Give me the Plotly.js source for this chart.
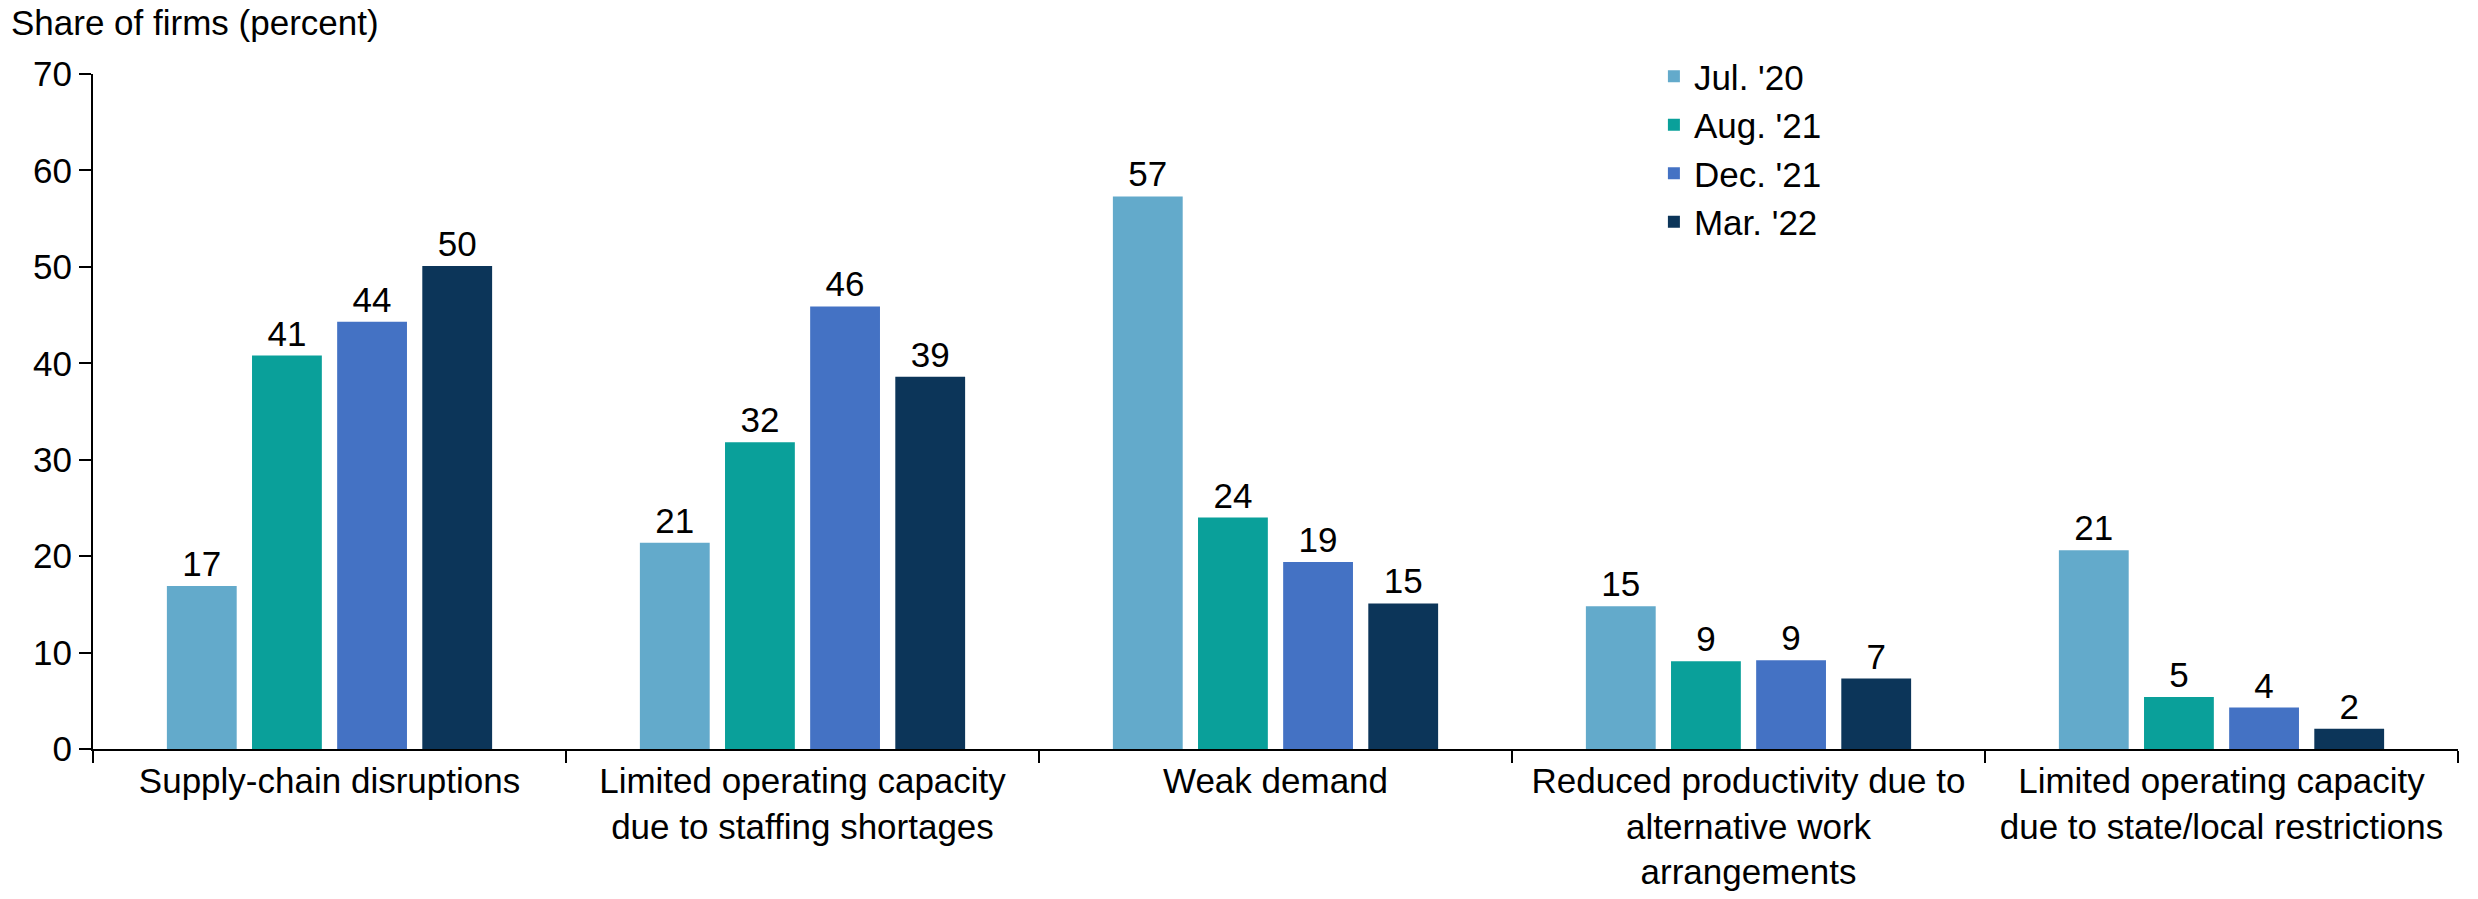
<!DOCTYPE html>
<html>
<head>
<meta charset="utf-8">
<script src="https://cdn.plot.ly/plotly-3.0.1.min.js"></script>
<style>html,body{margin:0;padding:0;background:#fff}#chart{width:2478px;height:899px}</style>
</head>
<body>
<div id="chart"></div>
<script>
const categories = [
  'Supply-chain disruptions',
  'Limited operating capacity<br>due to staffing shortages',
  'Weak demand',
  'Reduced productivity due to<br>alternative work<br>arrangements',
  'Limited operating capacity<br>due to state/local restrictions'
];
const seriesNames = ["Jul. '20", "Aug. '21", "Dec. '21", "Mar. '22"];
const jul20 = [16.9, 21.4, 57.3, 14.8, 20.6];
const aug21 = [40.8, 31.8, 24.0, 9.1, 5.4];
const dec21 = [44.3, 45.9, 19.4, 9.2, 4.3];
const mar22 = [50.1, 38.6, 15.1, 7.3, 2.1];
const yTicks = [0, 10, 20, 30, 40, 50, 60, 70];

const COLORS = ['#63aacb', '#0aa09a', '#4472c4', '#0c3559'];
const FONT = 'Liberation Sans, Arial, sans-serif';
const FS = 35;

const traces = [jul20, aug21, dec21, mar22].map((vals, i) => ({
  type: 'bar',
  x: categories,
  y: vals,
  name: seriesNames[i],
  marker: { color: COLORS[i] },
  text: vals.map(v => Math.round(v)),
  textposition: 'outside',
  textfont: { size: FS, color: '#000', family: FONT },
  cliponaxis: false,
  hoverinfo: 'skip',
}));

const layout = {
  width: 2478, height: 899,
  paper_bgcolor: '#fff', plot_bgcolor: '#fff',
  font: { family: FONT, size: FS, color: '#000' },
  margin: { l: 93, r: 20, t: 74, b: 150 },
  barmode: 'group',
  bargap: 0.28,
  bargroupgap: 0.18,
  showlegend: true,
  legend: {
    x: 0.66, y: 1.04, xanchor: 'left', yanchor: 'top',
    font: { size: FS, family: FONT },
    tracegroupgap: 0, itemwidth: 30,
    bgcolor: 'rgba(0,0,0,0)',
  },
  xaxis: {
    showline: true, linecolor: '#000', linewidth: 2,
    ticks: 'outside', tickson: 'boundaries', ticklen: 12, tickcolor: '#000', tickwidth: 2,
    tickfont: { size: FS, family: FONT },
    showgrid: false,
  },
  yaxis: {
    range: [0, 70], tickvals: yTicks,
    showline: true, linecolor: '#000', linewidth: 2,
    ticks: 'outside', ticklen: 12, tickcolor: '#000', tickwidth: 2,
    tickfont: { size: FS, family: FONT },
    showgrid: false, zeroline: false,
  },
  annotations: [{
    xref: 'paper', yref: 'paper', x: 0, y: 1, xshift: -84, yshift: 30,
    xanchor: 'left', yanchor: 'bottom',
    text: 'Share of firms (percent)', showarrow: false,
    font: { size: FS, family: FONT },
  }],
};

Plotly.newPlot('chart', traces, layout, { displayModeBar: false, staticPlot: true });
</script>
</body>
</html>
